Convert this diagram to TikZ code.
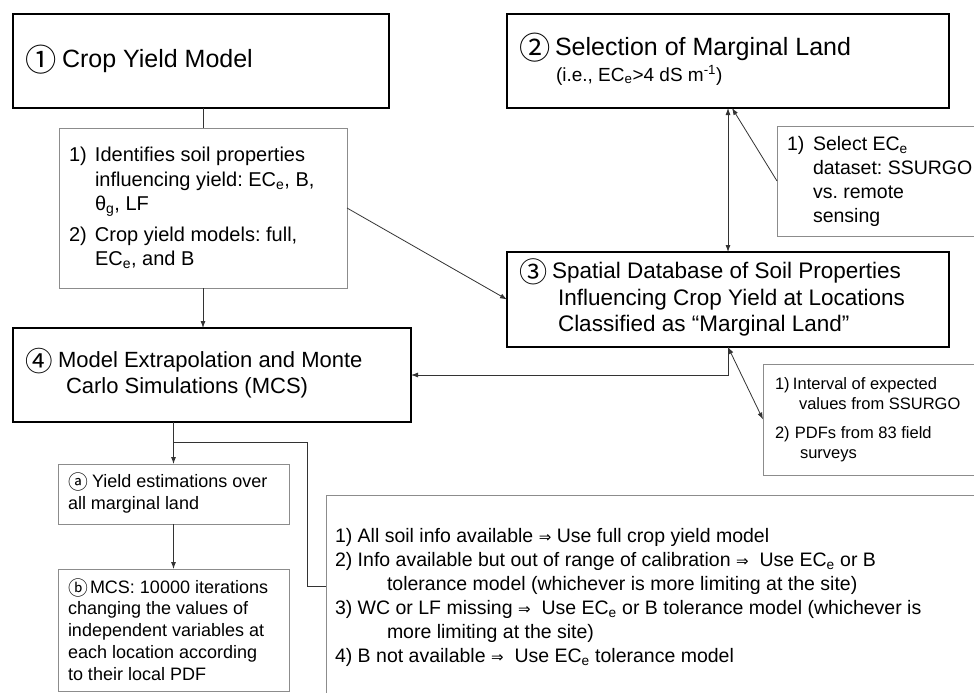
\documentclass[tikz,border=0pt]{standalone}
\usepackage{fontspec}
\setmainfont{Liberation Sans}
\newfontfamily\circfont[Scale=1.25]{Noto Sans CJK JP}
\newfontfamily\letfont[Scale=1.1]{Noto Sans CJK JP}
\newfontfamily\symfont{DejaVu Sans}
\usetikzlibrary{arrows.meta}
\tikzset{
  stage/.style={draw, line width=2.6pt, anchor=north west, outer sep=0pt,
    align=flush left, inner xsep=12pt, inner ysep=0pt},
  note/.style={draw=black!45, line width=0.9pt, anchor=north west, outer sep=0pt,
    align=flush left, inner xsep=10pt, inner ysep=0pt},
  wire/.style={draw=black!80, line width=0.8pt},
  link/.style={wire, -{Latex[length=7pt,width=5pt]}},
  twoway/.style={wire, {Latex[length=7pt,width=5pt]}-{Latex[length=7pt,width=5pt]}},
}
\newcommand{\ci}[2]{\makebox[#1][l]{\smash{\raisebox{-0.17em}{\circfont #2}}}}
\newcommand{\cl}[2]{\makebox[#1][l]{\smash{\raisebox{-0.12em}{\letfont #2}}}}
\newcommand{\ece}{EC\textsubscript{e}}
\newcommand{\lbl}[2][26pt]{\makebox[#1][l]{#2}}
\newcommand{\imp}{{\symfont\fontsize{15}{15}\selectfont ⇒}}
\frenchspacing

\begin{document}
\begin{tikzpicture}[x=1pt,y=-1pt]
  \useasboundingbox (0,0) rectangle (974,693);

  % Main stages
  \node[stage, minimum width=376pt, minimum height=94pt, text width=352pt,
        font=\fontsize{25}{30}\selectfont] (crop) at (13,14)
    {\ci{37pt}{①}Crop Yield Model};
  \node[stage, minimum width=442pt, minimum height=94pt, text width=418pt,
        font=\fontsize{25}{26}\selectfont] (select) at (507,14)
    {\ci{36pt}{②}Selection of Marginal Land\\
     {\fontsize{19}{20}\selectfont\hspace*{37pt}(i.e., \ece>4 dS m\textsuperscript{-1})}};
  \node[stage, minimum width=442pt, minimum height=95pt, text width=418pt,
        font=\fontsize{22.5}{26.5}\selectfont] (spatial) at (507,252)
    {\ci{33pt}{③}Spatial Database of Soil Properties\\
     \hspace*{39pt}Influencing Crop Yield at Locations\\
     \hspace*{39pt}Classified as “Marginal Land”};
  \node[stage, minimum width=398pt, minimum height=94pt, text width=374pt,
        font=\fontsize{22}{26}\selectfont] (extrap) at (13,328)
    {\ci{33pt}{④}Model Extrapolation and Monte\\
     \hspace*{41pt}Carlo Simulations (MCS)};

  % Notes
  \node[note, minimum width=288pt, minimum height=160pt, text width=268pt,
        font=\fontsize{20}{24.5}\selectfont] (cropnote) at (59,128)
    {\lbl{1)}Identifies soil properties\\
     \hspace*{26pt}influencing yield: \ece, B,\\
     \hspace*{26pt}θ\textsubscript{g}, LF\\[6pt]
     \lbl{2)}Crop yield models: full,\\
     \hspace*{26pt}\ece, and B};
  \node[note, minimum width=250pt, minimum height=110pt, text width=230pt,
        font=\fontsize{19.5}{24}\selectfont] (selnote) at (777,126)
    {\lbl{1)}Select \ece\\
     \hspace*{26pt}dataset: SSURGO\\
     \hspace*{26pt}vs. remote\\
     \hspace*{26pt}sensing};
  \node[note, inner xsep=12pt, minimum width=250pt, minimum height=111pt, text width=226pt,
        font=\fontsize{16.5}{20.5}\selectfont] (spatnote) at (763,364)
    {\lbl[18pt]{1)}Interval of expected\\
     \hspace*{24pt}values from SSURGO\\[8pt]
     \lbl[20pt]{2)}PDFs from 83 field\\
     \hspace*{25pt}surveys};
  \node[note, minimum width=231pt, minimum height=60pt, text width=211pt,
        font=\fontsize{18}{22}\selectfont] (yield) at (58,464)
    {\cl{24pt}{ⓐ}Yield estimations over\\
     all marginal land};
  \node[note, inner ysep=11pt, text width=211pt,
        font=\fontsize{18}{21.75}\selectfont] (mcs) at (58,569)
    {\cl{22pt}{ⓑ}MCS: 10000 iterations\\
     changing the values of\\
     independent variables at\\
     each location according\\
     to their local PDF};
  \node[note, inner xsep=9pt, inner ysep=33pt, text width=660pt,
        font=\fontsize{19.5}{24}\selectfont] (rules) at (326,495)
    {1) All soil info available \imp{} Use full crop yield model\\
     2) Info available but out of range of calibration \imp\ \ Use \ece{} or B\\
     \hspace*{52pt}tolerance model (whichever is more limiting at the site)\\
     3) WC or LF missing \imp\ \ Use \ece{} or B tolerance model (whichever is\\
     \hspace*{52pt}more limiting at the site)\\
     4) B not available \imp\ \ Use \ece{} tolerance model};

  % Connectors
  \draw[wire] (cropnote.north) -- (cropnote.north |- crop.south);
  \draw[link] (cropnote.south) -- (cropnote.south |- extrap.north);
  \draw[link] (cropnote.east) -- (spatial.west);
  \draw[link] (selnote.west) -- ([xshift=4pt]select.south);
  \draw[twoway] (select.south) -- (spatial.north);
  \draw[link] (spatial.south) |- (extrap.east);
  \draw[twoway] (spatial.south) -- (spatnote.west);
  \draw[link] (yield.north |- extrap.south) -- (yield.north);
  \draw[link] (yield.south) -- (mcs.north);

  \coordinate (fork) at (173,442);
  \coordinate (bend) at (307,586);
  \draw[wire] (fork) -| (bend) -- (bend -| rules.west);
\end{tikzpicture}
\end{document}
